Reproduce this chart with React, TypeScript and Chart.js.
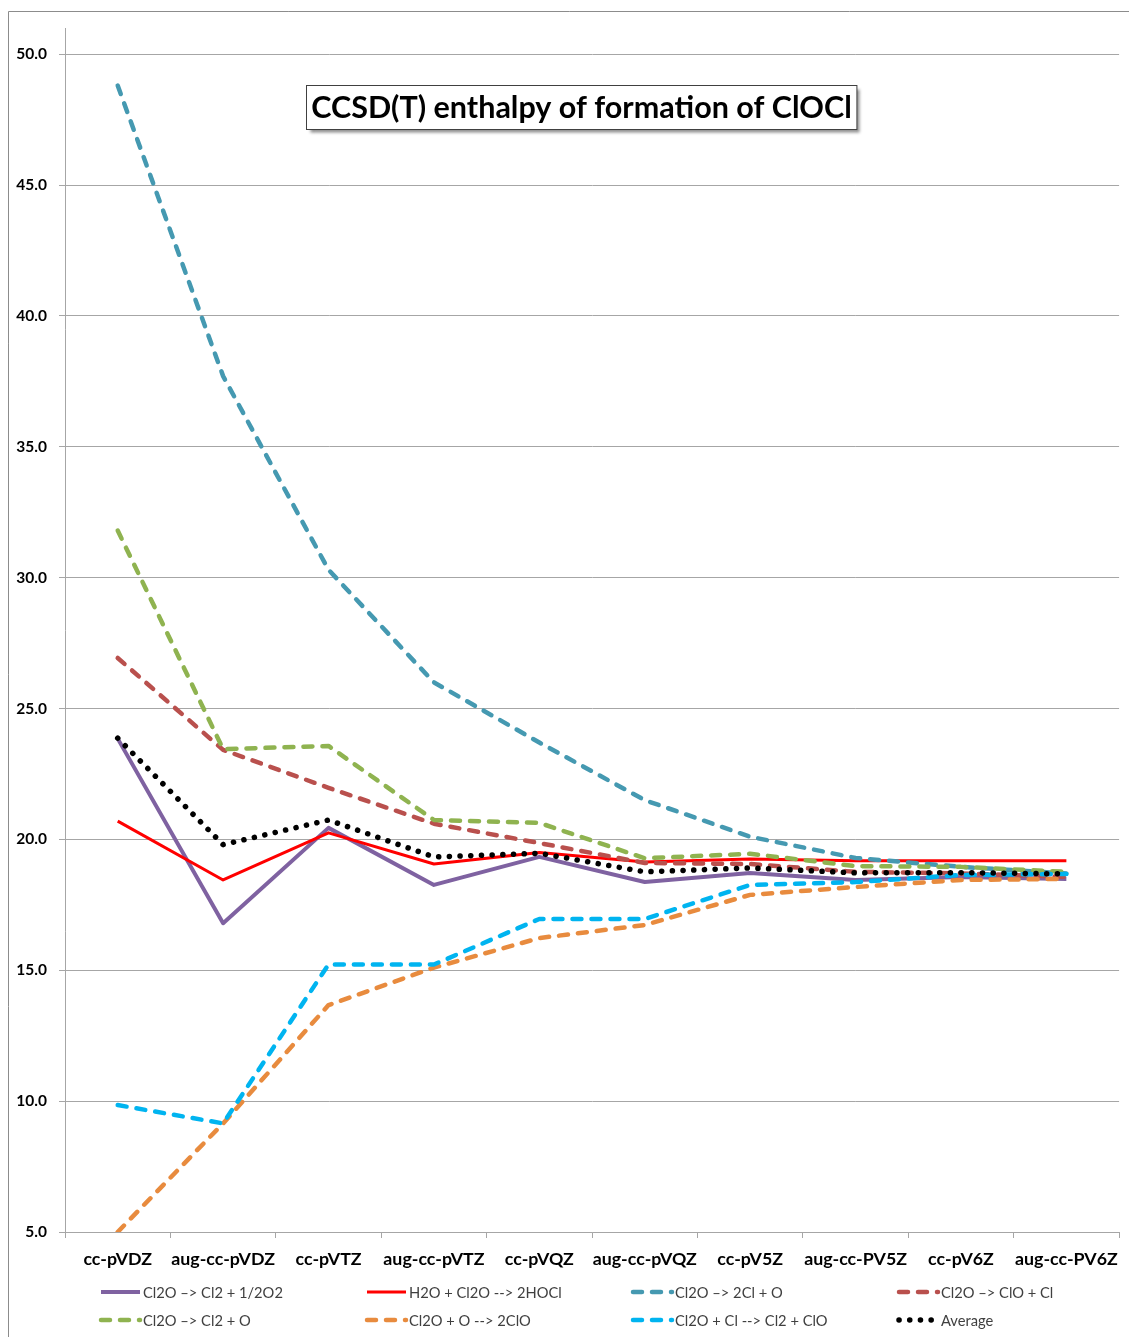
import { useEffect, useRef } from 'react';
import { Chart, registerables } from 'chart.js';

Chart.register(...registerables);

const WIDTH = 1129;
const HEIGHT = 1337;
const FONT = 'Lato, "Open Sans", "DejaVu Sans", sans-serif';

const chartTitle = 'CCSD(T) enthalpy of formation of ClOCl';

// Basis sets along the x axis
const basisSets = [
  'cc-pVDZ',
  'aug-cc-pVDZ',
  'cc-pVTZ',
  'aug-cc-pVTZ',
  'cc-pVQZ',
  'aug-cc-pVQZ',
  'cc-pV5Z',
  'aug-cc-PV5Z',
  'cc-pV6Z',
  'aug-cc-PV6Z',
];

// Reaction labels, in legend order
const seriesNames = [
  'Cl2O –> Cl2 + 1/2O2',
  'H2O + Cl2O --> 2HOCl',
  'Cl2O –> 2Cl + O',
  'Cl2O –> ClO + Cl',
  'Cl2O –> Cl2 + O',
  'Cl2O + O --> 2ClO',
  'Cl2O + Cl --> Cl2 + ClO',
  'Average',
];

// Enthalpy of formation (kcal/mol) per reaction scheme
const cl2oToCl2HalfO2 = [23.85, 16.8, 20.44, 18.26, 19.33, 18.37, 18.72, 18.45, 18.56, 18.49];
const h2oCl2oToHocl = [20.7, 18.45, 20.25, 19.06, 19.5, 19.14, 19.25, 19.18, 19.18, 19.18];
const cl2oTo2ClO = [48.8, 37.7, 30.3, 26.0, 23.7, 21.5, 20.1, 19.29, 18.95, 18.7];
const cl2oToClOCl = [26.93, 23.42, 21.97, 20.6, 19.86, 19.1, 19.06, 18.76, 18.7, 18.57];
const cl2oToCl2O = [31.8, 23.45, 23.57, 20.74, 20.63, 19.28, 19.45, 18.98, 18.95, 18.76];
const cl2oOTo2ClO = [5.0, 9.15, 13.67, 15.1, 16.23, 16.73, 17.88, 18.18, 18.45, 18.49];
const cl2oClToCl2ClO = [9.85, 9.15, 15.22, 15.22, 16.96, 16.96, 18.26, 18.37, 18.64, 18.68];
const averageValues = [23.87, 19.8, 20.74, 19.33, 19.47, 18.76, 18.91, 18.72, 18.73, 18.68];

const seriesValues = [
  cl2oToCl2HalfO2,
  h2oCl2oToHocl,
  cl2oTo2ClO,
  cl2oToClOCl,
  cl2oToCl2O,
  cl2oOTo2ClO,
  cl2oClToCl2ClO,
  averageValues,
];

// Y axis range and tick step
const yMin = 5;
const yMax = 51;
const yStep = 5;

type LineStyle = { color: string; width: number; dash: number[] };

const DASH = [9, 10];
const DOT = [0.1, 10.6];

const seriesStyles: LineStyle[] = [
  { color: '#7F62A1', width: 4, dash: [] },
  { color: '#FF0000', width: 3, dash: [] },
  { color: '#4599B1', width: 4.5, dash: DASH },
  { color: '#B9504D', width: 4.5, dash: DASH },
  { color: '#8FB350', width: 4.5, dash: DASH },
  { color: '#E88B3E', width: 4.5, dash: DASH },
  { color: '#00B4F0', width: 4.5, dash: DASH },
  { color: '#000000', width: 5.5, dash: DOT },
];

const decorations = {
  id: 'decorations',
  beforeDraw(chart: Chart) {
    const ctx = chart.ctx;
    ctx.save();
    ctx.fillStyle = '#ffffff';
    ctx.fillRect(0, 0, chart.width, chart.height);
    // outer frame
    ctx.strokeStyle = '#8C8C8C';
    ctx.lineWidth = 1;
    ctx.beginPath();
    ctx.moveTo(8.5, chart.height + 2);
    ctx.lineTo(8.5, 11.5);
    ctx.lineTo(chart.width + 2, 11.5);
    ctx.stroke();
    ctx.restore();
  },
  afterDraw(chart: Chart) {
    const ctx = chart.ctx;
    ctx.save();

    // title box with drop shadow
    ctx.font = `bold 30.5px ${FONT}`;
    const tw = ctx.measureText(chartTitle).width;
    const cx = 581.5;
    const cy = 107;
    const bw = tw + 10;
    const bh = 44;
    const bx = Math.round(cx - bw / 2) + 0.5;
    const by = Math.round(cy - bh / 2) + 0.5;
    ctx.shadowColor = 'rgba(0,0,0,0.45)';
    ctx.shadowOffsetX = 3;
    ctx.shadowOffsetY = 3;
    ctx.shadowBlur = 3;
    ctx.fillStyle = '#ffffff';
    ctx.fillRect(bx, by, bw, bh);
    ctx.shadowColor = 'transparent';
    ctx.strokeStyle = '#404040';
    ctx.lineWidth = 1;
    ctx.strokeRect(bx, by, bw, bh);
    ctx.fillStyle = '#000000';
    ctx.textAlign = 'center';
    ctx.textBaseline = 'middle';
    ctx.fillText(chartTitle, cx, cy + 1);

    // legend: 4 columns x 2 rows
    ctx.font = `14.7px ${FONT}`;
    ctx.textAlign = 'left';
    chart.data.datasets.forEach((ds: any, i: number) => {
      const col = i % 4;
      const row = Math.floor(i / 4);
      const x0 = 101 + col * 266;
      const y = 1292 + row * 28;
      const st = seriesStyles[i];
      ctx.beginPath();
      ctx.strokeStyle = st.color;
      ctx.lineWidth = st.width;
      ctx.lineCap = st.dash.length ? 'round' : 'butt';
      ctx.setLineDash(st.dash);
      ctx.moveTo(x0, y);
      ctx.lineTo(x0 + 39, y);
      ctx.stroke();
      ctx.setLineDash([]);
      ctx.fillStyle = '#404040';
      ctx.fillText(ds.label, x0 + 42, y + 1);
    });

    ctx.restore();
  },
};

export default function App() {
  const canvasRef = useRef<HTMLCanvasElement | null>(null);

  useEffect(() => {
    const canvas = canvasRef.current;
    if (!canvas) return;

    const datasets = seriesNames.map((name, i) => ({
      label: name,
      data: seriesValues[i],
      borderColor: seriesStyles[i].color,
      backgroundColor: seriesStyles[i].color,
      borderWidth: seriesStyles[i].width,
      borderDash: seriesStyles[i].dash,
      borderCapStyle: seriesStyles[i].dash.length ? 'round' : 'butt',
      borderJoinStyle: 'round',
      pointRadius: 0,
      pointHoverRadius: 0,
      tension: 0,
      fill: false,
      order: seriesNames.length - i,
    }));

    const chart = new Chart(canvas, {
      type: 'line',
      data: { labels: basisSets, datasets: datasets as any },
      plugins: [decorations],
      options: {
        animation: false,
        responsive: false,
        devicePixelRatio: 1,
        layout: { padding: { left: 8, right: 4, top: 28, bottom: 0 } },
        plugins: {
          legend: { display: false },
          title: { display: false },
          tooltip: { enabled: false },
        },
        scales: {
          x: {
            type: 'category',
            offset: true,
            afterFit: (scale: any) => {
              scale.height = 105;
            },
            grid: {
              offset: true,
              drawOnChartArea: false,
              drawTicks: true,
              tickLength: 6,
              color: '#A6A6A6',
            },
            border: { color: '#A6A6A6', width: 1 },
            ticks: {
              color: '#000000',
              padding: 11,
              maxRotation: 0,
              autoSkip: false,
              font: { family: FONT, size: 17.8, weight: 'bold' },
            },
          },
          y: {
            type: 'linear',
            min: yMin,
            max: yMax,
            afterFit: (scale: any) => {
              scale.width = 57;
            },
            afterBuildTicks: (scale: any) => {
              scale.ticks = scale.ticks.filter((t: any) => Math.abs(t.value % yStep) < 1e-9);
            },
            grid: {
              color: '#A6A6A6',
              lineWidth: 1,
              drawTicks: true,
              tickLength: 6,
            },
            border: { color: '#A6A6A6', width: 1 },
            ticks: {
              stepSize: yStep,
              color: '#000000',
              padding: 12,
              font: { family: FONT, size: 15.5, weight: 'bold' },
              callback: (v: any) => Number(v).toFixed(1),
            },
          },
        },
      } as any,
    });

    return () => chart.destroy();
  }, []);

  return (
    <div style={{ position: 'absolute', left: 0, top: 0, width: WIDTH, height: HEIGHT }}>
      <canvas ref={canvasRef} width={WIDTH} height={HEIGHT} style={{ display: 'block' }} />
    </div>
  );
}
